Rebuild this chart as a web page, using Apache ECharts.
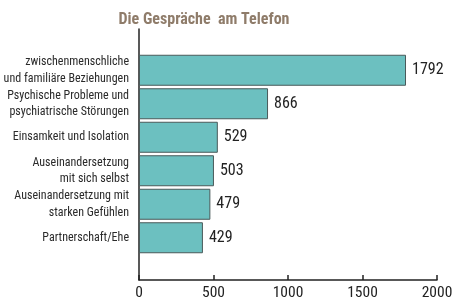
<!DOCTYPE html>
<html><head><meta charset="utf-8">
<script src="https://cdn.jsdelivr.net/npm/echarts@6/dist/echarts.min.js"></script>
<style>html,body{margin:0;padding:0;background:#fff}#c{width:456px;height:304px}</style>
</head><body><div id="c"></div>
<script>
const title = 'Die Gespräche  am Telefon';
const categories = [
  'zwischenmenschliche\nund familiäre Beziehungen',
  'Psychische Probleme und\npsychiatrische Störungen',
  'Einsamkeit und Isolation',
  'Auseinandersetzung\nmit sich selbst',
  'Auseinandersetzung mit\nstarken Gefühlen',
  'Partnerschaft/Ehe'
];
const values = [1792, 866, 529, 503, 479, 429];
const xTicks = [0, 500, 1000, 1500, 2000];

const FONT = '"Roboto Condensed", "DejaVu Sans Condensed", sans-serif';
const chart = echarts.init(document.getElementById('c'), null, {renderer: 'canvas'});
chart.setOption({
  animation: false,
  title: {
    text: title, left: 199, top: 7, textAlign: 'center',
    textStyle: {fontFamily: FONT, fontWeight: 'bold', fontSize: 16, color: '#8f7c6a'}
  },
  grid: [
    {left: 139, right: 19, top: 29, bottom: 24, containLabel: false, outerBoundsMode: 'none'},
    {left: 139, right: 19, top: 53.5, height: 201, containLabel: false, outerBoundsMode: 'none'}
  ],
  xAxis: [
    {gridIndex: 0, type: 'value', min: xTicks[0], max: xTicks[xTicks.length-1], interval: 500,
     axisLine: {show: true, lineStyle: {color: '#222', width: 1.5}},
     axisTick: {show: true, inside: true, length: 5, lineStyle: {color: '#222', width: 1.5}},
     splitLine: {show: false},
     axisLabel: {fontFamily: FONT, fontSize: 15.5, color: '#222', margin: 5, formatter: v => String(v)}},
    {gridIndex: 1, type: 'value', min: xTicks[0], max: xTicks[xTicks.length-1], show: false}
  ],
  yAxis: [
    {gridIndex: 0, type: 'value', show: true, axisLine: {show: true, lineStyle: {color: '#222', width: 1.5}},
     axisTick: {show: false}, axisLabel: {show: false}, splitLine: {show: false}},
    {gridIndex: 1, type: 'category', inverse: true, data: categories,
     axisLine: {show: false}, axisTick: {show: false},
     axisLabel: {fontFamily: FONT, fontSize: 12, color: '#2a2a2a', margin: 10, lineHeight: 16.5, align: 'right'}}
  ],
  series: [{
    type: 'bar', xAxisIndex: 1, yAxisIndex: 1, data: values, barWidth: 31,
    itemStyle: {color: '#6cc0c0', borderColor: '#4a5a5a', borderWidth: 1},
    label: {show: true, position: 'right', distance: 6, fontFamily: FONT, fontSize: 16, color: '#222'}
  }]
});
</script></body></html>
